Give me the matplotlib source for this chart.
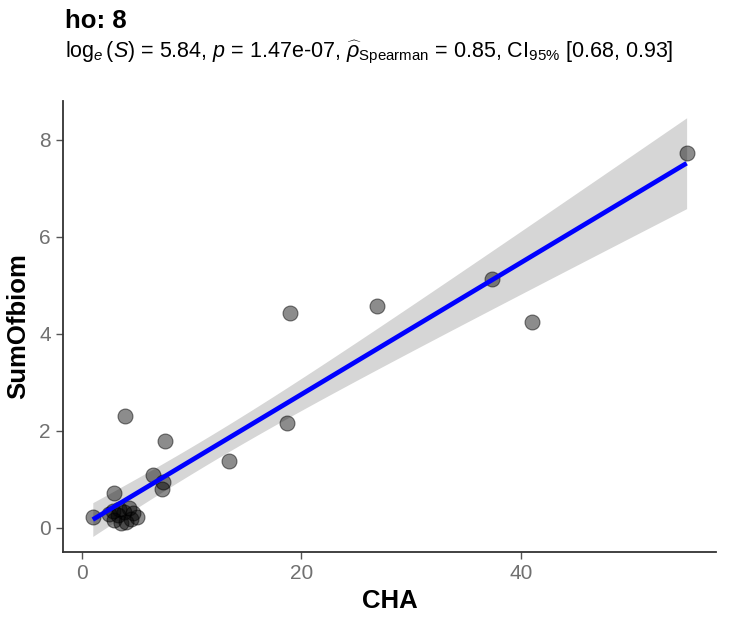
import matplotlib
matplotlib.use("Agg")
import matplotlib.pyplot as plt
import numpy as np

plt.rcParams["font.family"] = ["Liberation Sans", "DejaVu Sans"]
plt.rcParams["mathtext.fontset"] = "custom"
plt.rcParams["mathtext.rm"] = "Liberation Sans"
plt.rcParams["mathtext.it"] = "Liberation Sans:italic"
plt.rcParams["mathtext.bf"] = "Liberation Sans:bold"

# values
cha = [55.1, 37.4, 41.0, 26.9, 19.0, 18.7, 13.4, 7.6, 3.9, 7.3, 6.5, 7.4, 1.0, 2.9,
       3.8, 4.7, 4.5, 2.9, 3.6, 2.5, 3.3, 4.0, 4.3, 3.4, 5.0, 2.8]
sum_of_biom = [7.73, 5.13, 4.25, 4.58, 4.43, 2.16, 1.38, 1.79, 2.31, 0.80, 1.09, 0.93, 0.21, 0.72,
               0.33, 0.30, 0.18, 0.16, 0.10, 0.27, 0.25, 0.12, 0.40, 0.38, 0.22, 0.35]

title = "ho: 8"
subtitle = (r"$\log_{e}(S)$ = 5.84, $p$ = 1.47e-07, $\widehat{\rho}_{\mathrm{Spearman}}$ = 0.85, "
            r"CI$_{95\%}$ [0.68, 0.93]")
x_ticks = [0, 20, 40]
y_ticks = [0, 2, 4, 6, 8]

x = np.asarray(cha)
y = np.asarray(sum_of_biom)

# lm fit with 95% confidence band (like geom_smooth(method = "lm"))
slope, intercept = np.polyfit(x, y, 1)
n = len(x)
resid = y - (slope * x + intercept)
s = np.sqrt(np.sum(resid**2) / (n - 2))
sxx = np.sum((x - x.mean()) ** 2)
t_crit = 2.064  # t(0.975, df = 24)
xs = np.linspace(x.min(), x.max(), 80)
fit = slope * xs + intercept
half = t_crit * s * np.sqrt(1 / n + (xs - x.mean()) ** 2 / sxx)

fig = plt.figure(figsize=(7.43, 6.2), dpi=100)
ax = fig.add_axes([0.085, 0.110, 0.879, 0.727])

ax.fill_between(xs, fit - half, fit + half, color="#999999", alpha=0.4, linewidth=0, zorder=1)
ax.scatter(x, y, s=115, facecolor=(0, 0, 0, 0.45), edgecolor=(0, 0, 0, 0.5),
           linewidth=0.8, zorder=2)
ax.plot(xs, fit, color="blue", linewidth=3.4, zorder=3, solid_capstyle="butt")

ax.set_xlim(-1.7, 57.8)
ax.set_ylim(-0.5, 8.8)
ax.set_xticks(x_ticks)
ax.set_yticks(y_ticks)

for side in ["top", "right"]:
    ax.spines[side].set_visible(False)
for side in ["left", "bottom"]:
    ax.spines[side].set_linewidth(1.3)
    ax.spines[side].set_color("#333333")

ax.tick_params(axis="both", length=5, width=1.0, color="#555555",
               labelcolor="#707070", labelsize=15, pad=4)

ax.set_xlabel("CHA", fontsize=18.5, fontweight="bold", labelpad=4)
ax.set_ylabel("SumOfbiom", fontsize=18.5, fontweight="bold", labelpad=6)

fig.text(0.087, 0.955, title, fontsize=18.5, fontweight="bold", ha="left", va="baseline")
fig.text(0.087, 0.908, subtitle, fontsize=15.5, ha="left", va="baseline")

fig.savefig("out.png", dpi=100)
